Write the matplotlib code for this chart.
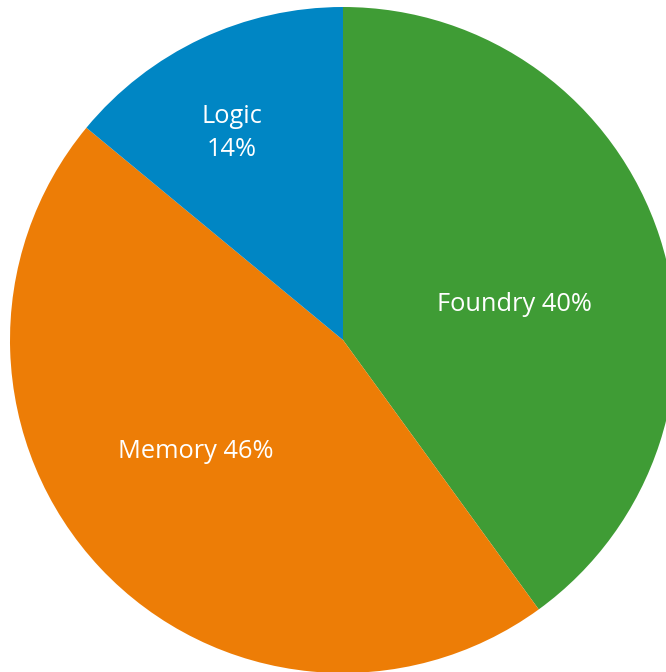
import numpy as np
import matplotlib
matplotlib.use("Agg")
import matplotlib.pyplot as plt

labels = ["Foundry", "Memory", "Logic"]
shares = [40, 46, 14]
colors = ["#3F9C35", "#ED7D06", "#0086C4"]

# label spots (axes data units, radius = 1) picked to match the original layout
label_xy = [(0.514, 0.108), (-0.441, -0.336), (-0.333, 0.622)]
label_text = ["Foundry 40%", "Memory 46%", "Logic\n14%"]

W, H = 666, 672
cx, cy, r = 343, 340, 333

fig = plt.figure(figsize=(W / 100, H / 100), dpi=100)
ax = fig.add_axes([(cx - r) / W, (H - cy - r) / H, 2 * r / W, 2 * r / H])
ax.pie(shares, colors=colors, startangle=90, counterclock=False,
       wedgeprops=dict(linewidth=0), radius=1)
ax.set_xlim(-1, 1)
ax.set_ylim(-1, 1)
ax.set_aspect("equal")
ax.axis("off")

for (x, y), t in zip(label_xy, label_text):
    ax.text(x, y, t, ha="center", va="center", color="white",
            fontsize=18.3, family=["Open Sans", "DejaVu Sans"], linespacing=1.45)

fig.savefig("out.png", dpi=100)
